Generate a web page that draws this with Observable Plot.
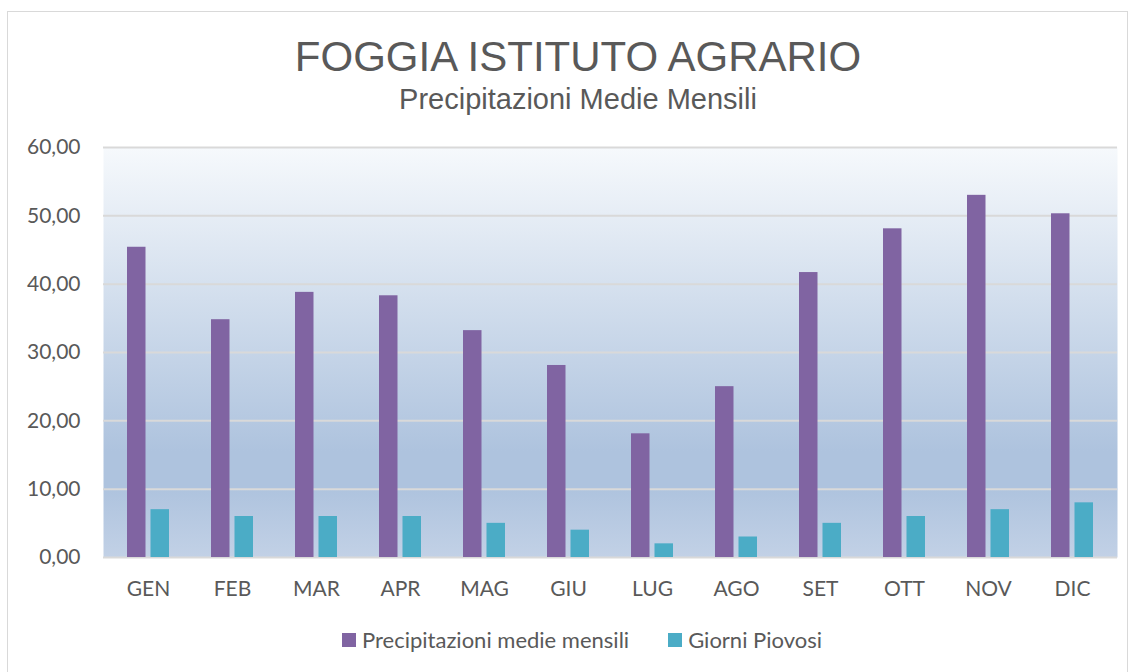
<!DOCTYPE html>
<html>
<head>
<meta charset="utf-8">
<script src="https://cdn.jsdelivr.net/npm/d3@7"></script>
<script src="https://cdn.jsdelivr.net/npm/@observablehq/plot@0.6"></script>
<style>
  body { margin: 0; background: #ffffff; }
  #wrap { position: relative; width: 1132px; height: 672px; overflow: hidden; background: #fff; }
  #frame { position: absolute; left: 7px; top: 11px; width: 1121px; height: 720px; border: 1.5px solid #d9d9d9; box-sizing: border-box; }
  #chart { position: absolute; left: 0; top: 0; }
  .title { position: absolute; left: 0; width: 1156px; text-align: center; font-family: "Liberation Sans", Arial, sans-serif; color: #595959; line-height: 1; white-space: nowrap; }
  #t1 { top: 36px; font-size: 42px; }
  #t2 { top: 85px; font-size: 29px; }
  #legend { position: absolute; left: 0; width: 1164px; top: 628px; text-align: center; font-family: Lato, sans-serif; font-size: 22px; color: #595959; line-height: 1; white-space: nowrap; }
  .item { display: inline-flex; align-items: center; }
  .sw { display: inline-block; width: 14px; height: 14px; margin-right: 6px; }
</style>
</head>
<body>
<div id="wrap">
  <div id="frame"></div>
  <div id="chart"></div>
  <div class="title" id="t1">FOGGIA ISTITUTO AGRARIO</div>
  <div class="title" id="t2">Precipitazioni Medie Mensili</div>
  <div id="legend"></div>
</div>
<script>
const months = ["GEN", "FEB", "MAR", "APR", "MAG", "GIU", "LUG", "AGO", "SET", "OTT", "NOV", "DIC"];
const precipitazioni = [45.4, 34.8, 38.8, 38.3, 33.2, 28.1, 18.1, 25.0, 41.7, 48.1, 53.0, 50.3];
const giorniPiovosi = [7, 6, 6, 6, 5, 4, 2, 3, 5, 6, 7, 8];
const yTicks = [0, 10, 20, 30, 40, 50, 60];
const seriesNames = ["Precipitazioni medie mensili", "Giorni Piovosi"];
const seriesColors = ["#8064A2", "#4BACC6"];

const rowsPrec = months.map((m, i) => ({ month: m, value: precipitazioni[i] }));
const rowsDays = months.map((m, i) => ({ month: m, value: giorniPiovosi[i] }));

const chart = Plot.plot({
  width: 1132,
  height: 607,
  marginTop: 147,
  marginBottom: 50,
  marginLeft: 103,
  marginRight: 15,
  style: { background: "transparent", fontFamily: "Lato, sans-serif", fontSize: "21px", color: "#595959" },
  x: { domain: months, paddingInner: 0.5, paddingOuter: 0.25, label: null },
  y: { domain: [0, 60], label: null },
  marks: [
    Plot.frame({ fill: "url(#plotBg)", stroke: null }),
    Plot.ruleY(yTicks, { stroke: "#d9d9d9", strokeWidth: 2 }),
    Plot.barY(rowsPrec, { x: "month", y: "value", fill: seriesColors[0], insetRight: 23.5 }),
    Plot.barY(rowsDays, { x: "month", y: "value", fill: seriesColors[1], insetLeft: 23.5 }),
    Plot.axisY({ ticks: yTicks, tickFormat: d => d.toFixed(2).replace(".", ","), tickSize: 0, tickPadding: 23, fill: "#595959", label: null }),
    Plot.axisX({ tickSize: 0, tickPadding: 24, fill: "#595959", label: null })
  ]
});

const svg = d3.select(chart);
const grad = svg.insert("defs", ":first-child")
  .append("linearGradient")
  .attr("id", "plotBg")
  .attr("x1", 0).attr("y1", 0).attr("x2", 0).attr("y2", 1);
[[0, "#f6f9fc"], [0.74, "#aec3de"], [0.83, "#aec3de"], [1, "#c2d1e6"]].forEach(([o, c]) => {
  grad.append("stop").attr("offset", o).attr("stop-color", c);
});

document.getElementById("chart").appendChild(chart);

const legend = document.getElementById("legend");
seriesNames.forEach((name, i) => {
  const item = document.createElement("span");
  item.className = "item";
  if (i > 0) item.style.marginLeft = "39px";
  const sw = document.createElement("span");
  sw.className = "sw";
  sw.style.background = seriesColors[i];
  item.appendChild(sw);
  item.appendChild(document.createTextNode(name));
  legend.appendChild(item);
});
</script>
</body>
</html>
